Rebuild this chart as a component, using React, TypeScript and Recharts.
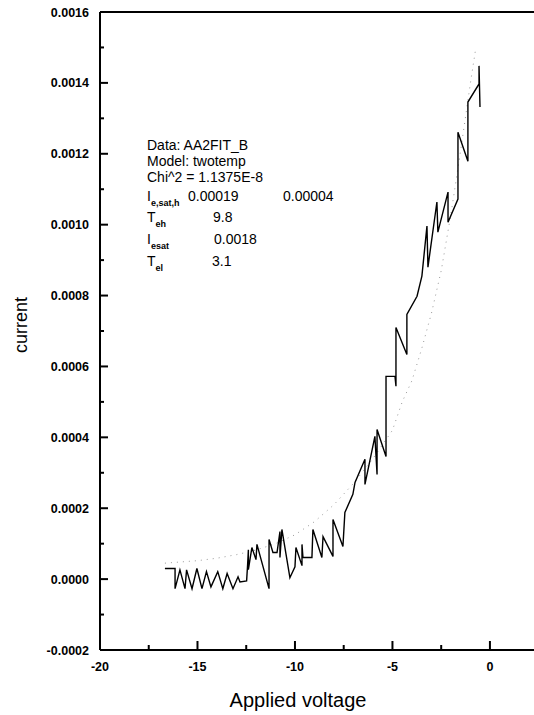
import React from "react";
import { LineChart, Line, XAxis, YAxis, ReferenceLine } from "recharts";

const measuredV = [
  -16.67, -16.15, -16.15, -15.9, -15.64, -15.56, -15.28, -15.03, -14.77, -14.54,
  -14.31, -13.96, -13.7, -13.48, -13.18, -12.92, -12.82, -12.48, -12.43, -12.39,
  -12.39, -12.21, -12.0, -11.95, -11.33, -11.33, -11.13, -10.92, -10.77, -10.77,
  -10.67, -10.26, -10.0, -9.95, -9.64, -9.64, -9.59, -9.13, -9.08, -8.62,
  -8.56, -8.05, -8.05, -7.54, -7.44, -7.03, -6.92, -6.41, -6.41, -5.9,
  -5.79, -5.79, -5.33, -5.33, -4.87, -4.82, -4.82, -4.26, -4.26, -3.74,
  -3.49, -3.23, -3.18, -2.72, -2.67, -2.15, -2.15, -1.64, -1.64, -1.13,
  -1.13, -0.56, -0.56, -0.51,
];
const measuredI = [
  0.00003, 0.00003, -0.000027, 0.000026, -0.000027, 0.000026, -0.000027, 0.00003, -0.000027, 0.000021,
  -0.000022, 0.000021, -0.000027, 0.000016, -0.000027, 0.0000065, -0.000008, -0.000005, 0.00004, 0.000083,
  0.000027, 0.000089, 0.000055, 0.000098, -0.000027, 0.000112, 0.000075, 0.000075, 0.000134, 0.000061,
  0.00014, 0.000004, 0.000035, 0.000089, 0.000038, 0.000098, 0.000061, 0.000061, 0.00014, 0.000061,
  0.00012, 0.000064, 0.000168, 0.000092, 0.000188, 0.000239, 0.000273, 0.000338, 0.000267, 0.000403,
  0.000295, 0.000422, 0.000346, 0.000572, 0.000572, 0.000544, 0.00071, 0.000634, 0.000747, 0.000798,
  0.000855, 0.000996, 0.00088, 0.001064, 0.000979, 0.001092, 0.001007, 0.001072, 0.001261, 0.001179,
  0.001346, 0.001397, 0.001448, 0.001332,
];

// two-temperature fit (dotted)
const fitV = [-16.67, -15, -14, -13, -12, -11, -10, -9, -8, -7, -6, -5, -4.5, -4, -3.5, -3, -2.5, -2, -1.5, -1, -0.72];
const fitI = [
  0.000045, 0.000052, 0.000059, 0.000069, 0.000082, 0.0001, 0.000125, 0.000162, 0.00021, 0.00027,
  0.00034, 0.00042, 0.0005, 0.00056, 0.00065, 0.00075, 0.00087, 0.00103, 0.00121, 0.0014, 0.0015,
];

const xTicks = [-20, -17.5, -15, -12.5, -10, -7.5, -5, -2.5, 0];
const yTicks = [
  -0.0002, -0.0001, 0, 0.0001, 0.0002, 0.0003, 0.0004, 0.0005, 0.0006, 0.0007,
  0.0008, 0.0009, 0.001, 0.0011, 0.0012, 0.0013, 0.0014, 0.0015, 0.0016,
];

const measured = measuredV.map((v, k) => ({ v, i: measuredI[k] }));
const fit = fitV.map((v, k) => ({ v, i: fitI[k] }));

const font = "'Liberation Sans', Arial, sans-serif";

const XTick = ({ x, y, payload }: any) => {
  const val = payload.value;
  const major = Math.abs(val % 5) < 1e-9;
  return (
    <g>
      <line x1={x} x2={x} y1={y} y2={y - (major ? 9 : 5)} stroke="#000" strokeWidth={2} />
      {major && (
        <text x={x} y={y + 21} textAnchor="middle" fontSize={12.5} fontWeight="bold" fontFamily={font} fill="#000">
          {val}
        </text>
      )}
    </g>
  );
};

const YTick = ({ x, y, payload }: any) => {
  const val = payload.value;
  const major = Math.round(val * 10000) % 2 === 0;
  return (
    <g>
      <line x1={x} x2={x + (major ? 8 : 4)} y1={y} y2={y} stroke="#000" strokeWidth={2} />
      {major && (
        <text x={x - 11} y={y + 4.5} textAnchor="end" fontSize={12.5} fontWeight="bold" fontFamily={font} fill="#000">
          {val.toFixed(4)}
        </text>
      )}
    </g>
  );
};

const XLabel = () => (
  <text x={298} y={707} textAnchor="middle" fontSize={20} fontFamily={font} fill="#000">
    Applied voltage
  </text>
);

const YLabel = () => (
  <text x={27} y={325} transform="rotate(-90 27 325)" textAnchor="middle" fontSize={18} fontFamily={font} fill="#000">
    current
  </text>
);

const row = (center: number): React.CSSProperties => ({
  position: "absolute",
  left: 147,
  top: center - 8,
  fontSize: 14,
  lineHeight: "16px",
  whiteSpace: "nowrap",
});
const sub: React.CSSProperties = { fontSize: 9, fontWeight: "bold", position: "relative", top: 5 };

const App = () => {
  return (
    <div style={{ position: "relative", width: 534, height: 715, fontFamily: font, color: "#000", background: "#fff" }}>
      <style>{"body{margin:0}"}</style>
      <LineChart width={534} height={715} margin={{ top: 12, right: 0, bottom: 0, left: 0 }}>
        <XAxis
          dataKey="v"
          type="number"
          domain={[-20, 2.26]}
          ticks={xTicks}
          interval={0}
          tickSize={0}
          tickMargin={0}
          tickLine={false}
          tick={<XTick />}
          height={65}
          axisLine={{ stroke: "#000", strokeWidth: 2 }}
          label={<XLabel />}
        />
        <YAxis
          type="number"
          domain={[-0.0002, 0.0016]}
          ticks={yTicks}
          interval={0}
          tickSize={0}
          tickMargin={0}
          tickLine={false}
          tick={<YTick />}
          width={100}
          axisLine={{ stroke: "#000", strokeWidth: 2 }}
          label={<YLabel />}
        />
        <ReferenceLine y={0.0016} stroke="#000" strokeWidth={2} />
        <Line
          data={fit}
          dataKey="i"
          type="linear"
          stroke="#999"
          strokeWidth={1}
          strokeDasharray="1 5"
          dot={false}
          isAnimationActive={false}
        />
        <Line
          data={measured}
          dataKey="i"
          type="linear"
          stroke="#000"
          strokeWidth={1.4}
          dot={false}
          isAnimationActive={false}
        />
      </LineChart>

      <div style={row(145)}>Data: AA2FIT_B</div>
      <div style={row(161)}>Model: twotemp</div>
      <div style={row(177)}>Chi^2 = 1.1375E-8</div>
      <div style={row(196)}>
        I<span style={sub}>e,sat,h</span>
      </div>
      <div style={{ ...row(196), left: 188 }}>0.00019</div>
      <div style={{ ...row(196), left: 283 }}>0.00004</div>
      <div style={row(217)}>
        T<span style={sub}>eh</span>
      </div>
      <div style={{ ...row(217), left: 213 }}>9.8</div>
      <div style={row(239)}>
        I<span style={sub}>esat</span>
      </div>
      <div style={{ ...row(239), left: 214 }}>0.0018</div>
      <div style={row(261)}>
        T<span style={sub}>el</span>
      </div>
      <div style={{ ...row(261), left: 212 }}>3.1</div>
    </div>
  );
};

export default App;
